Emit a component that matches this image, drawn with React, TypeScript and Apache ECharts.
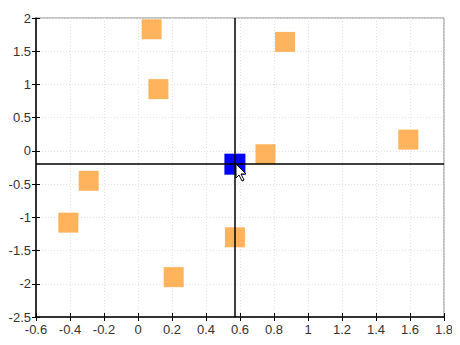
import React, { useEffect, useRef } from "react";
import * as echarts from "echarts";

const xValues = [0.08, 0.865, 0.12, 1.59, 0.75, -0.29, -0.41, 0.57, 0.21];
const yValues = [1.83, 1.64, 0.93, 0.17, -0.05, -0.45, -1.08, -1.3, -1.9];
const selectedPoint = [0.57, -0.2];
const xTicks = { min: -0.6, max: 1.8, interval: 0.2 };
const yTicks = { min: -2.5, max: 2, interval: 0.5 };

const fmt = (v: number) => {
  const r = Math.round(v * 10) / 10;
  return String(r);
};

export default function App() {
  const ref = useRef<HTMLDivElement>(null);
  useEffect(() => {
    if (!ref.current) return;
    const chart = echarts.init(ref.current, undefined, { renderer: "svg" });
    const labelStyle = {
      color: "#333",
      fontSize: 13,
      fontFamily: "Liberation Sans, Arial, sans-serif",
    };
    const baseAxis = (t: { min: number; max: number; interval: number }) => ({
      type: "value" as const,
      min: t.min,
      max: t.max,
      interval: t.interval,
    });
    const gridLine = { show: true, lineStyle: { color: "#e2e2e2", type: [1, 2] } };
    const option: any = {
      animation: false,
      grid: {
        left: 36,
        top: 18,
        width: 408,
        height: 299,
        show: true,
        borderColor: "#888",
        borderWidth: 1,
        backgroundColor: "transparent",
      },
      xAxis: [
        {
          ...baseAxis(xTicks),
          position: "bottom",
          axisLine: { show: true, onZero: false, lineStyle: { color: "#000", width: 1.5 } },
          axisTick: { show: true, length: 4, lineStyle: { color: "#000" } },
          axisLabel: { ...labelStyle, margin: 6, formatter: fmt },
          splitLine: gridLine,
        },
        {
          ...baseAxis(xTicks),
          position: "bottom",
          offset: 0,
          axisLine: { show: false, onZero: false },
          axisTick: { show: true, inside: true, length: 4, lineStyle: { color: "#000" } },
          axisLabel: { show: false },
          splitLine: { show: false },
        },
      ],
      yAxis: [
        {
          ...baseAxis(yTicks),
          position: "left",
          axisLine: { show: true, onZero: false, lineStyle: { color: "#000", width: 1.5 } },
          axisTick: { show: true, length: 4, lineStyle: { color: "#000" } },
          axisLabel: { ...labelStyle, margin: 5, formatter: fmt },
          splitLine: gridLine,
        },
        {
          ...baseAxis(yTicks),
          position: "left",
          offset: 0,
          axisLine: { show: false, onZero: false },
          axisTick: { show: true, inside: true, length: 4, lineStyle: { color: "#000" } },
          axisLabel: { show: false },
          splitLine: { show: false },
        },
      ],
      series: [
        {
          type: "scatter",
          symbol: "rect",
          symbolSize: 20,
          itemStyle: { color: "#ffb35c", opacity: 1 },
          data: xValues.map((x, i) => [x, yValues[i]]),
        },
        {
          type: "scatter",
          symbol: "rect",
          symbolSize: 21,
          itemStyle: { color: "#0000ff", opacity: 1 },
          data: [selectedPoint],
          markLine: {
            silent: true,
            symbol: "none",
            label: { show: false },
            lineStyle: { color: "#000", width: 1.5, type: "solid" },
            data: [{ yAxis: selectedPoint[1] }, { xAxis: selectedPoint[0] }],
          },
        },
      ],
      graphic: [
        {
          type: "polygon",
          x: 236,
          y: 164,
          z: 100,
          shape: {
            points: [
              [0, 0], [0, 14], [3, 11], [6, 17], [8, 16], [5, 10], [10, 10],
            ],
          },
          style: { fill: "#fff", stroke: "#000", lineWidth: 1 },
        },
      ],
    };
    chart.setOption(option);
    return () => chart.dispose();
  }, []);
  return <div ref={ref} style={{ width: 460, height: 345, margin: -8 }} />;
}
